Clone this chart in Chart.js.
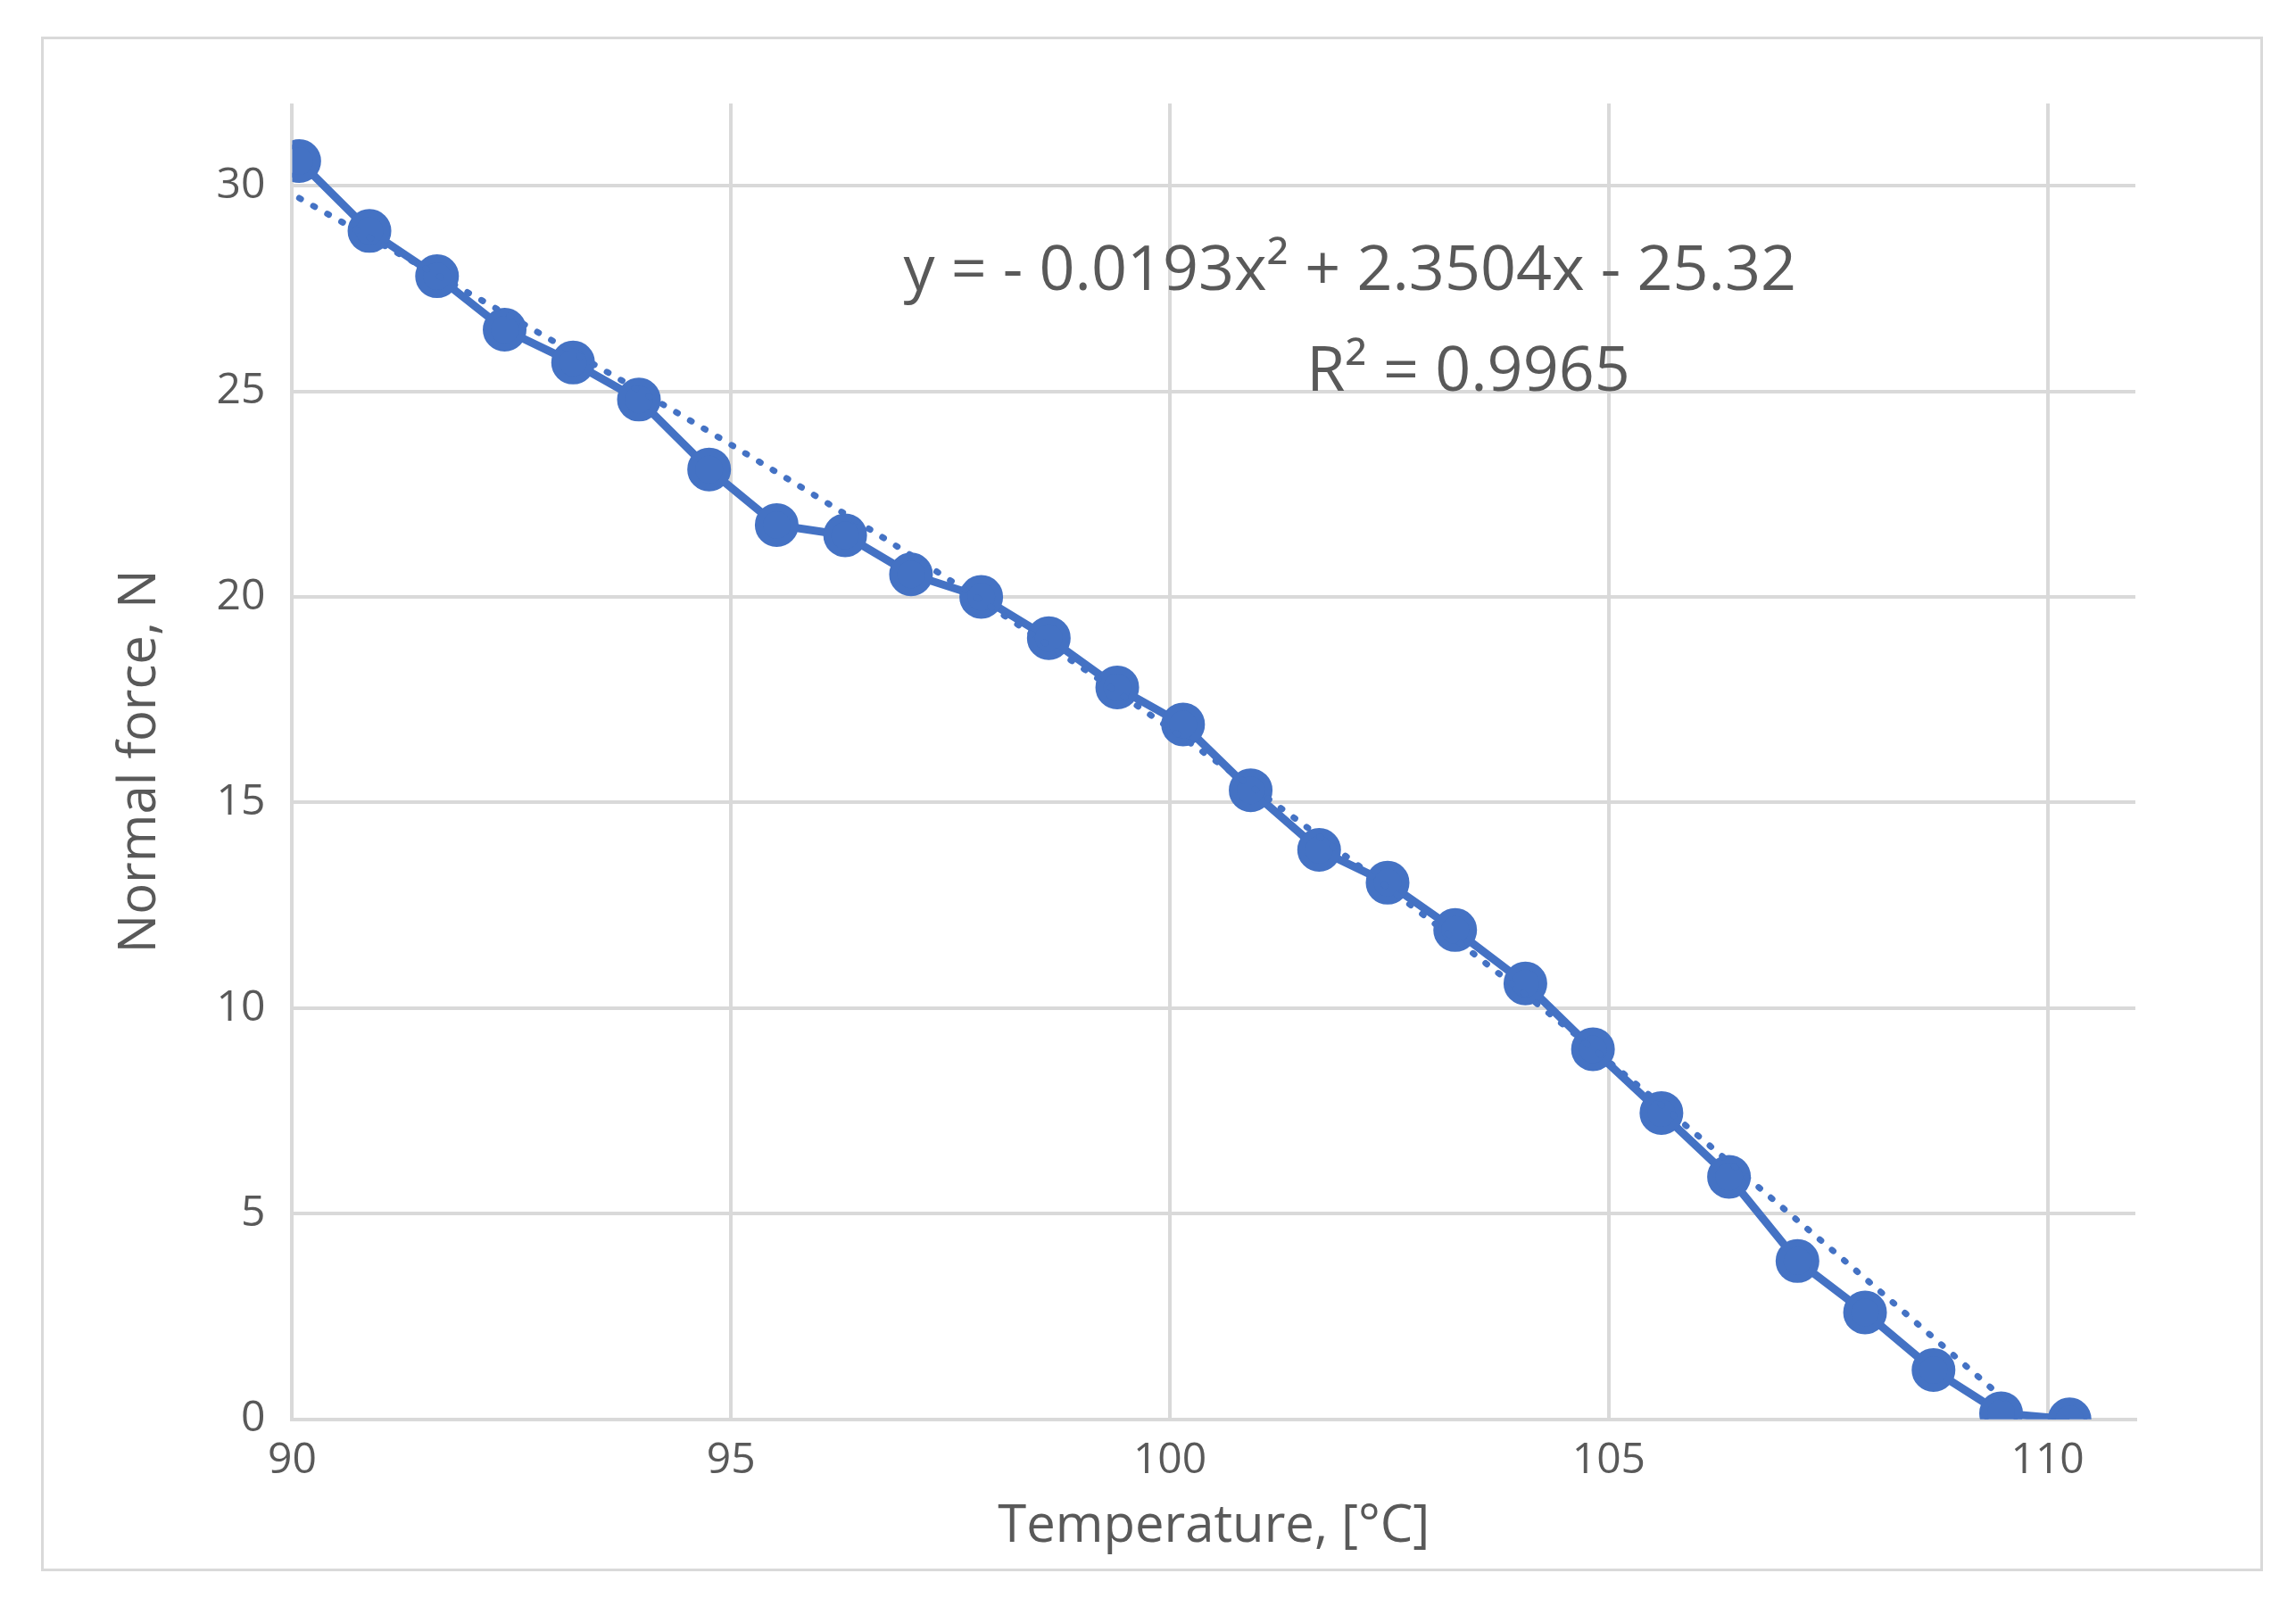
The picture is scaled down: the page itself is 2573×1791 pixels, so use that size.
<!DOCTYPE html>
<html><head><meta charset="utf-8">
<script src="https://cdn.jsdelivr.net/npm/chart.js@4"></script>
<style>html,body{margin:0;padding:0;background:#fff}#wrap{position:absolute;left:46px;top:41px;width:2490px;height:1720px;border:3px solid #d9d9d9;box-sizing:border-box}</style>
</head><body>
<div id="wrap"><canvas id="c"></canvas></div>
<script>
const temperature=[90.08,90.88,91.65,92.42,93.2,93.95,94.75,95.52,96.3,97.05,97.85,98.62,99.4,100.15,100.92,101.7,102.48,103.25,104.05,104.82,105.6,106.37,107.15,107.92,108.7,109.47,110.25];
const force=[30.6,28.9,27.8,26.5,25.7,24.8,23.1,21.75,21.5,20.55,20.0,19.0,17.8,16.9,15.3,13.85,13.05,11.9,10.6,9.0,7.45,5.9,3.85,2.6,1.2,0.15,0.0];
const trendX=[90.08,92.5,95,97.5,100,102.5,105,107.5,109.5];
const trendY=[29.7,26.8,23.7,20.4,16.8,12.9,8.7,4.2,0.5];
const xTicks=[90,95,100,105,110];
const yTicks=[0,5,10,15,20,25,30];
const eqLine1='y = - 0.0193x² + 2.3504x - 25.32';
const eqLine2='R² = 0.9965';
const grey='#595959', blue='#4472C4';
const FF='"Open Sans", sans-serif';
const eqPlugin={id:'eq',afterDatasetsDraw(ch){const c=ch.ctx,x=ch.scales.x,y=ch.scales.y;c.save();c.fillStyle=grey;c.font='70px '+FF;c.textAlign='center';c.textBaseline='middle';
c.fillText(eqLine1,x.getPixelForValue(102.05),y.getPixelForValue(27.9));
c.fillText(eqLine2,x.getPixelForValue(103.4),y.getPixelForValue(25.45));c.restore();}};
new Chart(document.getElementById('c'),{type:'scatter',
data:{datasets:[
{data:temperature.map((t,i)=>({x:t,y:force[i]})),showLine:true,borderColor:blue,backgroundColor:blue,borderWidth:9,pointRadius:20,pointHoverRadius:20,order:1},
{data:trendX.map((t,i)=>({x:t,y:trendY[i]})),showLine:true,borderColor:blue,borderWidth:7,borderDash:[2,16],borderCapStyle:'round',pointRadius:0,cubicInterpolationMode:'monotone',order:0}
]},
options:{responsive:true,maintainAspectRatio:false,animation:false,devicePixelRatio:1,
layout:{padding:{left:70,right:140,top:72,bottom:8}},
plugins:{legend:{display:false},tooltip:{enabled:false}},
scales:{
x:{type:'linear',min:90,max:111,afterBuildTicks:s=>{s.ticks=xTicks.map(v=>({value:v}))},
grid:{color:'#d9d9d9',lineWidth:4,drawTicks:false},border:{color:'#d9d9d9',width:4},
ticks:{color:grey,font:{size:48,family:FF},padding:18},
title:{display:true,text:'Temperature, [°C]',color:grey,font:{size:58,family:FF},padding:{top:-8}}},
y:{type:'linear',min:0,max:32,afterBuildTicks:s=>{s.ticks=yTicks.map(v=>({value:v}))},
grid:{color:'#d9d9d9',lineWidth:4,drawTicks:false},border:{display:false},
ticks:{color:grey,font:{size:48,family:FF},padding:30},
title:{display:true,text:'Normal force, N',color:grey,font:{size:58,family:FF},padding:{bottom:20}}}
}},plugins:[eqPlugin]});
</script></body></html>
